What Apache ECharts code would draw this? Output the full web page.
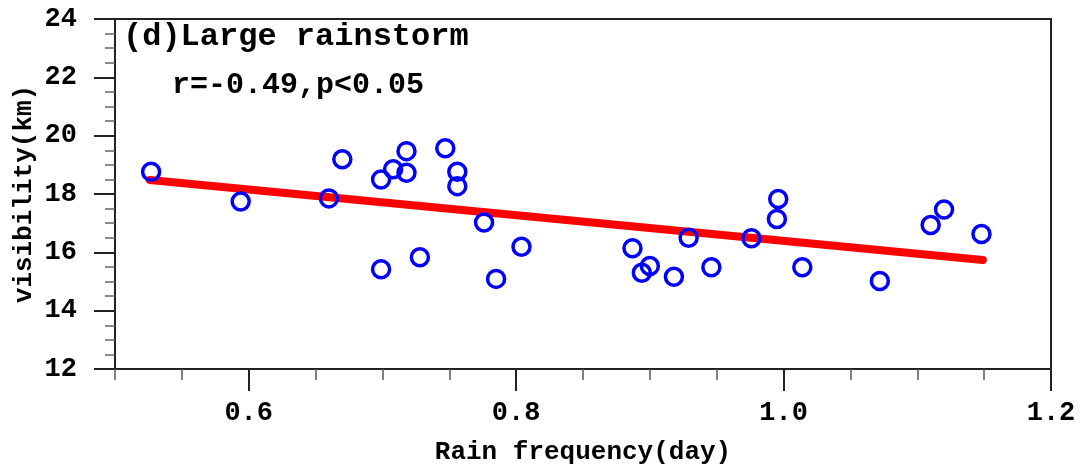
<!DOCTYPE html>
<html>
<head>
<meta charset="utf-8">
<script src="https://cdn.jsdelivr.net/npm/echarts@6/dist/echarts.min.js"></script>
<style>
html,body{margin:0;padding:0;background:#fff;}
#c{width:1085px;height:466px;}
</style>
</head>
<body>
<div id="c"></div>
<script>
// Rain frequency (day)
var rainFreq = [0.527, 0.594, 0.660, 0.670, 0.699, 0.699, 0.708, 0.718, 0.718, 0.728,
                0.747, 0.756, 0.756, 0.776, 0.785, 0.804, 0.887, 0.894, 0.900, 0.918,
                0.929, 0.946, 0.976, 0.996, 0.995, 1.014, 1.072, 1.110, 1.120, 1.148];
// Visibility (km)
var visibility = [18.76, 17.74, 17.85, 19.19, 18.50, 15.42, 18.85, 19.47, 18.73, 15.83,
                  19.57, 18.76, 18.27, 17.02, 15.09, 16.19, 16.14, 15.30, 15.53, 15.16,
                  16.50, 15.49, 16.48, 17.83, 17.14, 15.49, 15.02, 16.94, 17.47, 16.63];
// Regression line endpoints
var fitX = [0.526, 1.149];
var fitY = [18.48, 15.74];
// Ticks
var xMajorTicks = [0.6, 0.8, 1.0, 1.2];
var xMinorTicks = [0.5, 0.55, 0.65, 0.7, 0.75, 0.85, 0.9, 0.95, 1.05, 1.1, 1.15];
var yTicks = [12, 14, 16, 18, 20, 22, 24];

var FONT = '"Liberation Mono", "DejaVu Sans Mono", monospace';
var AX = '#222';

var points = rainFreq.map(function (x, i) { return [x, visibility[i]]; });
var fitLine = fitX.map(function (x, i) { return [x, fitY[i]]; });

var chart = echarts.init(document.getElementById('c'), null, {renderer: 'canvas'});
chart.setOption({
  animation: false,
  backgroundColor: '#fff',
  grid: {left: 115, right: 34, top: 19, bottom: 97, containLabel: false, outerBoundsMode: 'none',
         show: true, borderColor: AX, borderWidth: 2, backgroundColor: 'transparent'},
  xAxis: [{
    type: 'value', min: 0.5, max: 1.2, position: 'bottom',
    name: 'Rain frequency(day)', nameLocation: 'middle', nameGap: 83, nameMoveOverlap: false,
    nameTextStyle: {fontFamily: FONT, fontWeight: 'bold', fontSize: 26, color: '#000', verticalAlign: 'middle'},
    axisLine: {show: true, onZero: false, lineStyle: {color: AX, width: 2}},
    axisTick: {show: true, length: 11, customValues: xMinorTicks, lineStyle: {color: '#555', width: 1.5}},
    axisLabel: {show: true, customValues: xMajorTicks, margin: 31, fontFamily: FONT, fontWeight: 'bold', fontSize: 27, color: '#000',
      formatter: function (v) { return (+v).toFixed(1); }},
    splitLine: {show: false}
  }, {
    type: 'value', min: 0.5, max: 1.2, position: 'bottom', gridIndex: 0, offset: 0,
    axisLine: {show: false, onZero: false},
    axisTick: {show: true, length: 22, customValues: xMajorTicks, lineStyle: {color: AX, width: 2}},
    axisLabel: {show: false},
    splitLine: {show: false}
  }],
  yAxis: [{
    type: 'value', min: 12, max: 24, interval: 2, position: 'left',
    name: 'visibility(km)', nameLocation: 'middle', nameGap: 91, nameRotate: 90, nameMoveOverlap: false,
    nameTextStyle: {fontFamily: FONT, fontWeight: 'bold', fontSize: 26, color: '#000', verticalAlign: 'middle'},
    axisLine: {show: true, onZero: false, lineStyle: {color: AX, width: 2}},
    axisTick: {show: true, length: 21, lineStyle: {color: AX, width: 2}},
    minorTick: {show: true, splitNumber: 4, length: 10, lineStyle: {color: '#666', width: 1.5}},
    axisLabel: {show: true, margin: 38, fontFamily: FONT, fontWeight: 'bold', fontSize: 27, color: '#000'},
    splitLine: {show: false}, minorSplitLine: {show: false}
  }],
  graphic: [
    {type: 'text', left: 123, top: 21, style: {text: '(d)Large rainstorm', font: 'bold 32px ' + FONT, fill: '#000'}},
    {type: 'text', left: 172, top: 70, style: {text: 'r=-0.49,p<0.05', font: 'bold 30px ' + FONT, fill: '#000'}}
  ],
  series: [{
    type: 'line', xAxisIndex: 0, yAxisIndex: 0, data: fitLine, symbol: 'none', z: 2,
    lineStyle: {color: '#ff0000', width: 8, cap: 'round'}
  }, {
    type: 'scatter', xAxisIndex: 0, yAxisIndex: 0, data: points, symbol: 'circle', symbolSize: 17, z: 3,
    itemStyle: {color: 'rgba(0,0,0,0)', borderColor: '#0000ff', borderWidth: 3.5, opacity: 1}
  }]
});
</script>
</body>
</html>
